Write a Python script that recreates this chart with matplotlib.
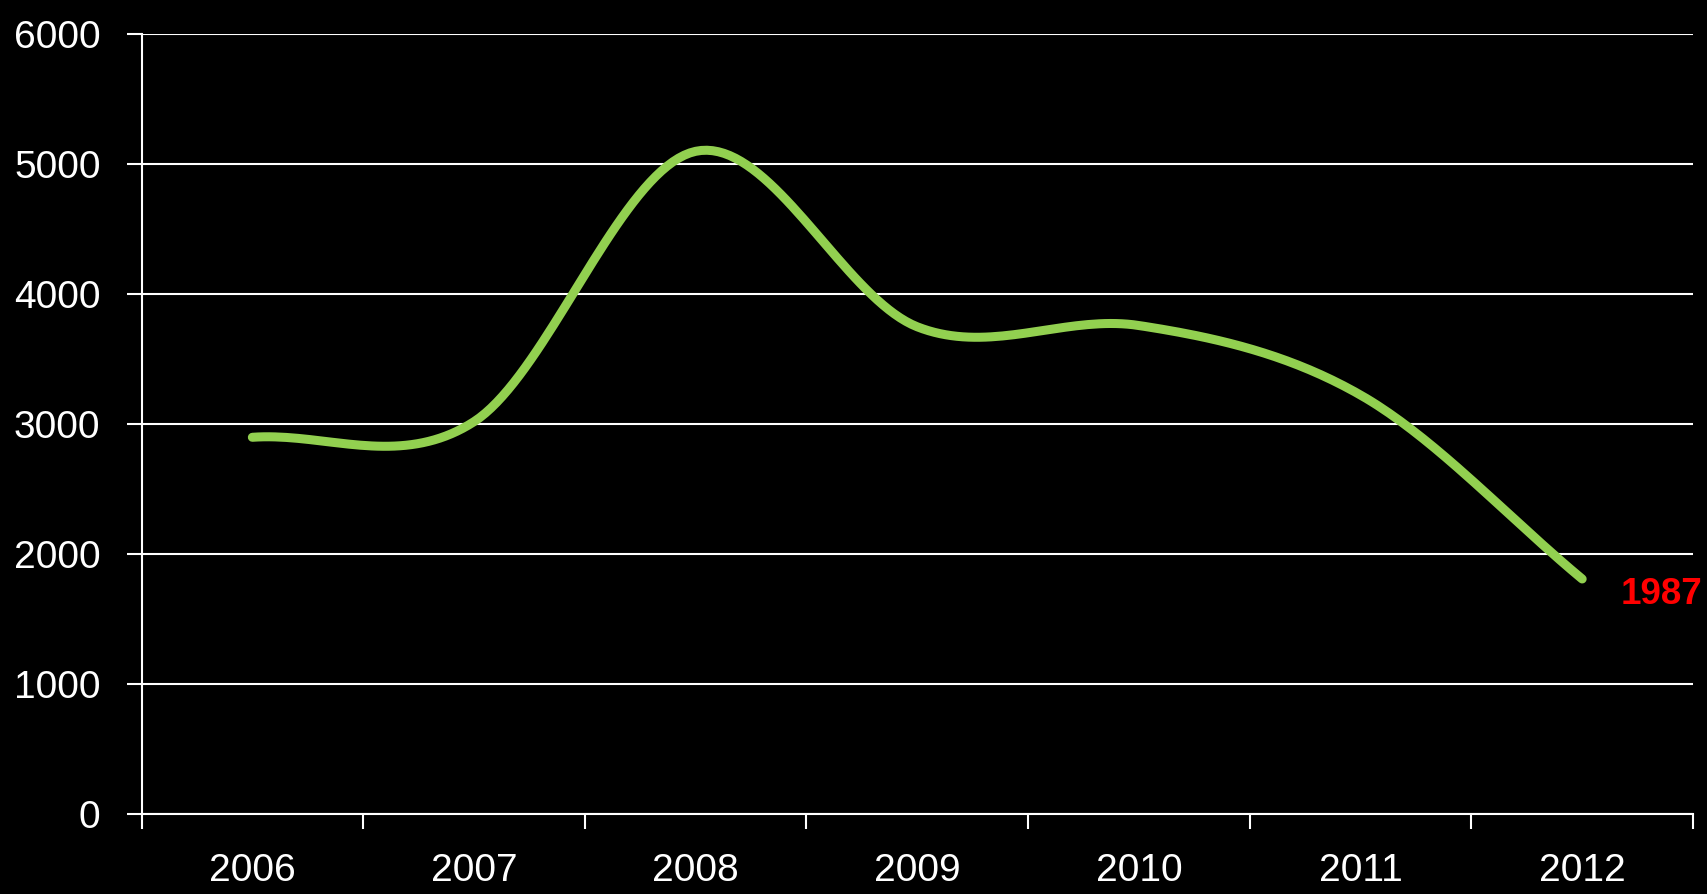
import numpy as np
import matplotlib
matplotlib.use("Agg")
import matplotlib.pyplot as plt

years = ["2006", "2007", "2008", "2009", "2010", "2011", "2012"]
values = [2900, 3020, 5100, 3750, 3760, 3225, 1810]
end_label = "1987"

yticks = [0, 1000, 2000, 3000, 4000, 5000, 6000]

LINE_GREEN = "#92D050"
FONT = ["Liberation Sans", "DejaVu Sans"]


def catmull_rom(x, y, steps=40):
    # smooth curve through the points, like a spreadsheet "smoothed line"
    px = np.concatenate([[2 * x[0] - x[1]], x, [2 * x[-1] - x[-2]]])
    py = np.concatenate([[2 * y[0] - y[1]], y, [2 * y[-1] - y[-2]]])
    xs, ys = [], []
    t = np.linspace(0, 1, steps)
    for i in range(1, len(px) - 2):
        p0, p1, p2, p3 = px[i - 1], px[i], px[i + 1], px[i + 2]
        q0, q1, q2, q3 = py[i - 1], py[i], py[i + 1], py[i + 2]
        bx = 0.5 * ((2 * p1) + (-p0 + p2) * t + (2 * p0 - 5 * p1 + 4 * p2 - p3) * t ** 2
                    + (-p0 + 3 * p1 - 3 * p2 + p3) * t ** 3)
        by = 0.5 * ((2 * q1) + (-q0 + q2) * t + (2 * q0 - 5 * q1 + 4 * q2 - q3) * t ** 2
                    + (-q0 + 3 * q1 - 3 * q2 + q3) * t ** 3)
        xs.append(bx)
        ys.append(by)
    return np.concatenate(xs), np.concatenate(ys)


plt.rcParams["font.family"] = FONT

fig = plt.figure(figsize=(17.07, 8.94), dpi=100, facecolor="black")
ax = fig.add_axes([0.0829, 0.0892, 0.9089, 0.8724], facecolor="black")

x = np.arange(len(years), dtype=float)
sx, sy = catmull_rom(x, np.array(values, dtype=float))
ax.plot(sx, sy, color=LINE_GREEN, lw=6.5, solid_capstyle="round", zorder=3)

ax.annotate(end_label, xy=(x[-1], values[-1]), xytext=(28, -11),
            textcoords="offset points", ha="left", va="center",
            color="red", fontsize=26.5, fontweight="bold",
            annotation_clip=False)

ax.set_xlim(-0.5, len(years) - 0.5)
ax.set_ylim(0, 6000)

ax.set_yticks(yticks)
ax.set_yticklabels([str(v) for v in yticks])
ax.yaxis.grid(True, color="white", lw=1.5)
ax.set_axisbelow(True)

ax.set_xticks(np.arange(-0.5, len(years), 1.0))
ax.set_xticklabels([])
ax.set_xticks(x, minor=True)
ax.set_xticklabels(years, minor=True)

ax.tick_params(axis="y", colors="white", labelsize=28, length=10.5, width=1.5, pad=19)
ax.tick_params(axis="x", which="major", colors="white", length=10.8, width=1.5)
ax.tick_params(axis="x", which="minor", colors="white", labelsize=28, length=0, pad=28)

for side in ("top", "right"):
    ax.spines[side].set_visible(False)
for side in ("left", "bottom"):
    ax.spines[side].set_color("white")
    ax.spines[side].set_linewidth(1.5)

fig.savefig("out.png", dpi=100, facecolor="black")
